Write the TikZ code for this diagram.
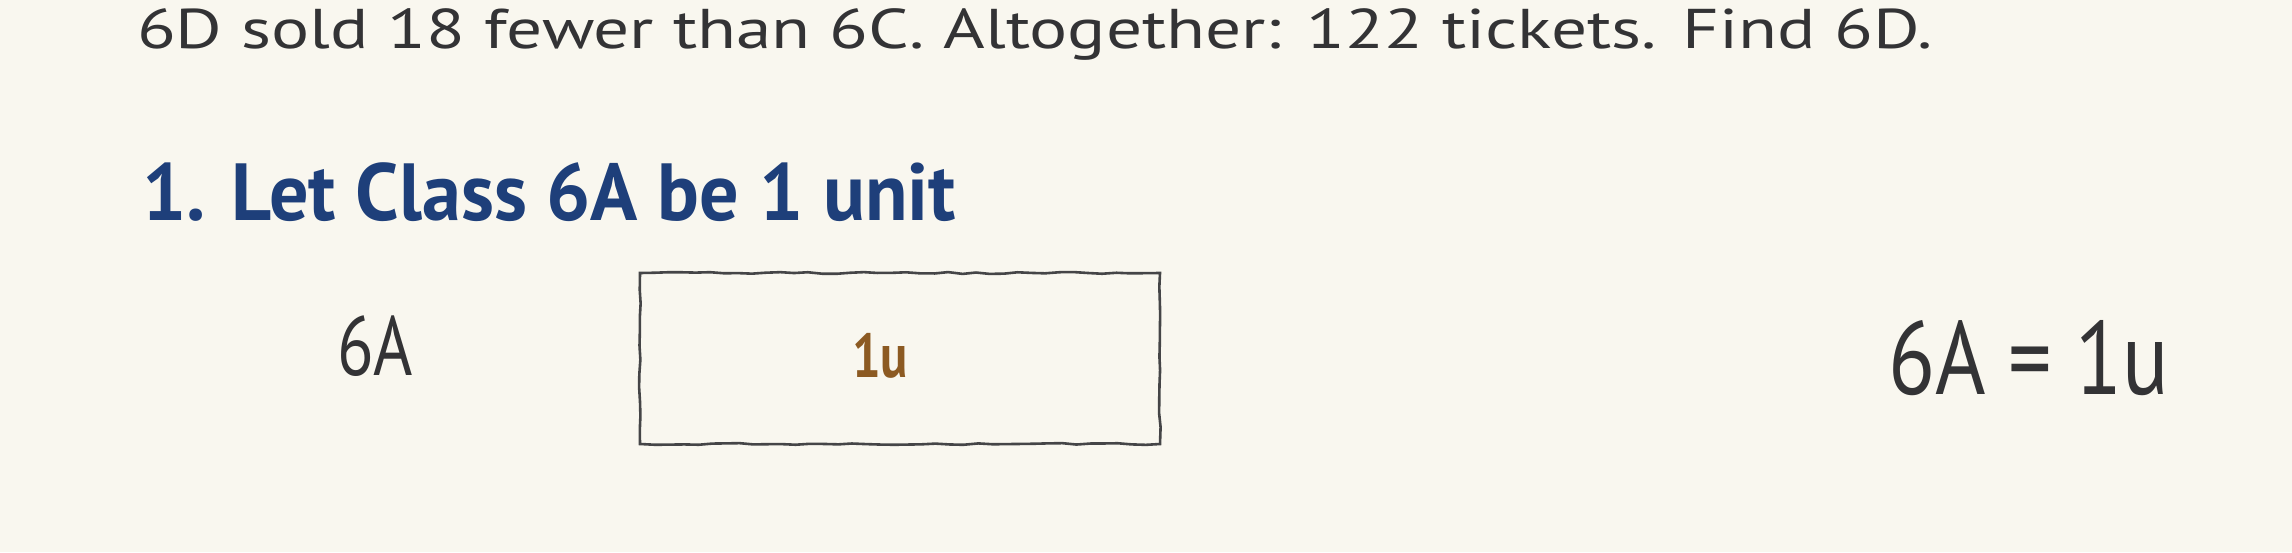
\documentclass[tikz,border=0pt]{standalone}
\usepackage{fontspec}
\usepackage{graphicx}
\setmainfont{PT Sans}
\usetikzlibrary{decorations.pathmorphing}
\definecolor{paper}{HTML}{F9F7EF}
\definecolor{ink}{HTML}{333335}
\definecolor{headblue}{HTML}{1E3F7A}
\definecolor{unitbrown}{HTML}{8C5A22}
\definecolor{pencil}{HTML}{454547}
\newcommand{\fitw}[2]{\resizebox{#1}{\height}{#2}}
\tikzset{
  txt/.style={inner sep=0pt, outer sep=0pt, anchor=base west, text=ink},
  rough/.style={draw=pencil, line width=2.6pt,
    decorate, decoration={random steps, segment length=14pt, amplitude=0.9pt}},
}
\begin{document}
\begin{tikzpicture}[x=1pt,y=1pt]
\pgfmathsetseed{7}
\fill[paper] (0,0) rectangle (2292,-552);
\useasboundingbox (0,0) rectangle (2292,-552);

\node[txt] (problem) at (137,-48)
  {\fontsize{56}{62}\selectfont\fitw{1796pt}{6D sold 18 fewer than 6C. Altogether: 122 tickets. Find 6D.}};

\node[txt, text=headblue] (step) at (142,-220)
  {\fontsize{81}{90}\selectfont\bfseries\fitw{814pt}{1. Let Class 6A be 1 unit}};

\node[txt] (lab) at (337,-375)
  {\fontsize{84}{90}\selectfont\fitw{76pt}{6A}};

\coordinate (bl) at (640,-444);
\coordinate (tr) at (1160,-273);
\draw[rough] (bl) -- (640,-273) -- (tr) -- (1160,-444) -- cycle;
\node[draw=none, minimum width=520pt, minimum height=171pt, inner sep=0pt] (bar) at (900,-358.5) {};

\node[txt, text=unitbrown] (unit) at (852,-377)
  {\fontsize{62}{70}\selectfont\bfseries\fitw{56pt}{1u}};

\node[txt] (eq) at (1888,-394)
  {\fontsize{104}{110}\selectfont\fitw{281pt}{6A = 1u}};
\end{tikzpicture}
\end{document}
